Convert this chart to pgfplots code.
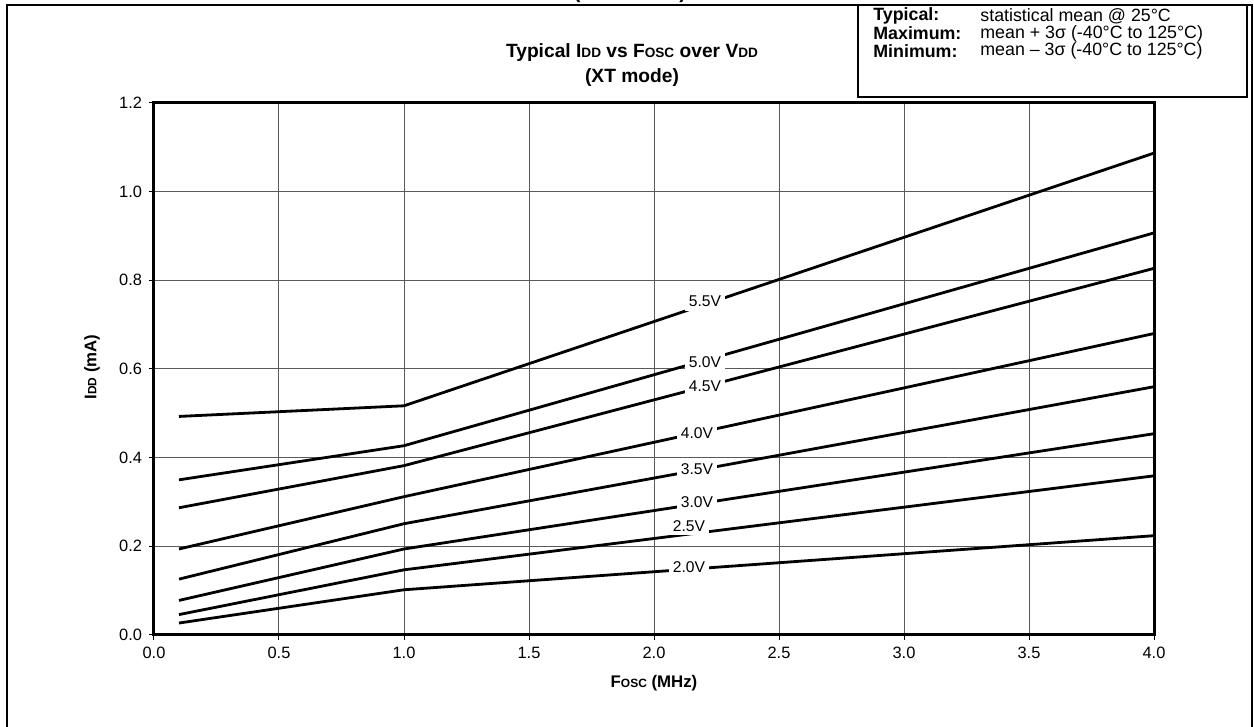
\documentclass[border=0pt]{standalone}
\usepackage{pgfplots}
\pgfplotsset{compat=1.18}
\usepackage{fontspec}
\setmainfont{Liberation Sans}
\newcommand{\sm}[1]{{\fontsize{6.8}{8}\selectfont #1}}
\newcommand{\smx}[1]{{\fontsize{6.0}{7}\selectfont #1}}
\begin{document}
\begin{tikzpicture}
\useasboundingbox (-77pt,-46pt) rectangle (550pt,317.5pt);
\begin{axis}[
  at={(0,0)}, anchor=south west,
  scale only axis, width=500pt, height=266pt,
  xmin=0, xmax=4, ymin=0, ymax=1.2,
  xtick={0,0.5,...,4}, ytick={0,0.2,...,1.2},
  grid=major,
  major grid style={line width=0.5pt, black!65},
  axis line style={line width=1.5pt},
  tick align=outside, major tick length=2.5pt,
  tick style={black, line width=0.5pt},
  xtick pos=bottom, ytick pos=left,
  ticklabel style={font=\fontsize{8.2}{9}\selectfont},
  /pgf/number format/assume math mode=true,
  /pgf/number format/.cd, fixed, fixed zerofill, precision=1,
]
\addplot[black, line width=1.4pt] coordinates {(0.1,0.493) (1.0,0.517) (4.0,1.087)};
\addplot[black, line width=1.4pt] coordinates {(0.1,0.350) (1.0,0.427) (4.0,0.907)};
\addplot[black, line width=1.4pt] coordinates {(0.1,0.287) (1.0,0.382) (4.0,0.827)};
\addplot[black, line width=1.4pt] coordinates {(0.1,0.194) (1.0,0.312) (4.0,0.680)};
\addplot[black, line width=1.4pt] coordinates {(0.1,0.126) (1.0,0.251) (4.0,0.560)};
\addplot[black, line width=1.4pt] coordinates {(0.1,0.078) (1.0,0.194) (4.0,0.454)};
\addplot[black, line width=1.4pt] coordinates {(0.1,0.046) (1.0,0.147) (4.0,0.359)};
\addplot[black, line width=1.4pt] coordinates {(0.1,0.027) (1.0,0.102) (4.0,0.224)};
\begin{scope}[every node/.style={fill=white, inner sep=2pt, font=\fontsize{7.8}{9}\selectfont}]
\node at (axis cs:2.204,0.752) {5.5V};
\node at (axis cs:2.204,0.616) {5.0V};
\node at (axis cs:2.204,0.562) {4.5V};
\node at (axis cs:2.172,0.456) {4.0V};
\node at (axis cs:2.172,0.375) {3.5V};
\node at (axis cs:2.172,0.300) {3.0V};
\node at (axis cs:2.140,0.246) {2.5V};
\node at (axis cs:2.140,0.152) {2.0V};
\end{scope}
\end{axis}
% outer frame
\draw[line width=1pt] (-73.5pt,-60pt) -- (-73.5pt,315pt) -- (549pt,315pt) -- (549pt,-60pt);
% cut-off header
\node[anchor=base, font=\bfseries\fontsize{10}{12}\selectfont] at (238pt,318pt) {(Continued)};
% legend box
\draw[line width=1pt] (352pt,315pt) rectangle (546.5pt,269pt);
\begin{scope}[every node/.style={anchor=west, inner sep=0pt, font=\fontsize{8.9}{10}\selectfont}]
\node at (359.5pt,309.4pt) {\bfseries Typical:};
\node at (359.5pt,300.7pt) {\bfseries Maximum:};
\node at (359.5pt,292pt) {\bfseries Minimum:};
\node at (413pt,309.4pt) {statistical mean @ 25°C};
\node at (413pt,300.7pt) {mean + 3σ (-40°C to 125°C)};
\node at (413pt,292pt) {mean – 3σ (-40°C to 125°C)};
\end{scope}
% title
\node[font=\bfseries\fontsize{9.6}{11}\selectfont] at (239pt,291pt) {Typical I\sm{DD} vs F\sm{OSC} over V\sm{DD}};
\node[font=\bfseries\fontsize{9.6}{11}\selectfont] at (239pt,278.5pt) {(XT mode)};
% axis labels
\node[font=\bfseries\fontsize{8.4}{10}\selectfont, rotate=90] at (-31pt,134pt) {I\smx{DD} (mA)};
\node[font=\bfseries\fontsize{8.4}{10}\selectfont] at (250pt,-24pt) {F\smx{OSC} (MHz)};
\end{tikzpicture}
\end{document}
